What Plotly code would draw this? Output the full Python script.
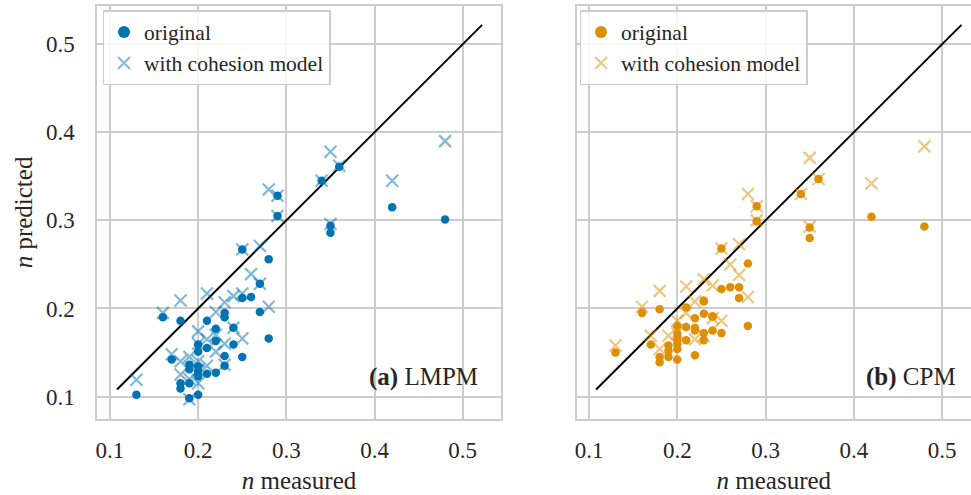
import plotly.graph_objects as go

# ---- data (n measured, n predicted) ----
a_orig_x = [0.13, 0.16, 0.17, 0.18, 0.18, 0.18, 0.19, 0.19, 0.19, 0.19,
            0.20, 0.20, 0.20, 0.20, 0.20, 0.20, 0.21, 0.21, 0.21, 0.22,
            0.22, 0.22, 0.23, 0.23, 0.23, 0.23, 0.24, 0.24, 0.25, 0.25,
            0.25, 0.26, 0.27, 0.27, 0.28, 0.28, 0.29, 0.29, 0.34, 0.35,
            0.35, 0.36, 0.42, 0.48]
a_orig_y = [0.102, 0.190, 0.142, 0.186, 0.115, 0.109, 0.136, 0.131, 0.115, 0.098,
            0.159, 0.151, 0.134, 0.129, 0.123, 0.102, 0.186, 0.155, 0.126, 0.177,
            0.163, 0.127, 0.195, 0.190, 0.146, 0.135, 0.178, 0.159, 0.267, 0.212,
            0.145, 0.213, 0.228, 0.196, 0.256, 0.166, 0.328, 0.305, 0.345, 0.294,
            0.286, 0.361, 0.315, 0.301]

a_coh_x = [0.13, 0.16, 0.17, 0.18, 0.18, 0.18, 0.19, 0.19, 0.19, 0.20,
           0.20, 0.20, 0.20, 0.20, 0.21, 0.21, 0.21, 0.22, 0.22, 0.22,
           0.23, 0.23, 0.23, 0.24, 0.24, 0.25, 0.25, 0.25, 0.26, 0.27,
           0.27, 0.28, 0.28, 0.29, 0.29, 0.34, 0.35, 0.35, 0.36, 0.42,
           0.48]
a_coh_y = [0.119, 0.195, 0.148, 0.209, 0.125, 0.140, 0.145, 0.120, 0.097, 0.174,
           0.140, 0.160, 0.130, 0.115, 0.217, 0.165, 0.135, 0.196, 0.151, 0.170,
           0.207, 0.136, 0.160, 0.214, 0.178, 0.267, 0.217, 0.166, 0.239, 0.271,
           0.228, 0.335, 0.202, 0.328, 0.305, 0.345, 0.378, 0.296, 0.362, 0.345,
           0.390]

b_orig_x = [0.13, 0.16, 0.17, 0.18, 0.18, 0.18, 0.19, 0.19, 0.19, 0.20,
            0.20, 0.20, 0.20, 0.20, 0.20, 0.21, 0.21, 0.21, 0.22, 0.22,
            0.22, 0.22, 0.23, 0.23, 0.23, 0.23, 0.23, 0.24, 0.24, 0.24,
            0.25, 0.25, 0.25, 0.26, 0.27, 0.27, 0.28, 0.28, 0.29, 0.29,
            0.34, 0.35, 0.35, 0.36, 0.42, 0.48]
b_orig_y = [0.150, 0.195, 0.159, 0.199, 0.145, 0.139, 0.158, 0.152, 0.145, 0.180,
            0.171, 0.165, 0.160, 0.154, 0.142, 0.201, 0.179, 0.164, 0.189, 0.178,
            0.175, 0.147, 0.208, 0.194, 0.172, 0.164, 0.209, 0.191, 0.175, 0.191,
            0.268, 0.222, 0.172, 0.224, 0.224, 0.212, 0.251, 0.180, 0.316, 0.299,
            0.330, 0.292, 0.280, 0.347, 0.304, 0.293]

b_coh_x = [0.13, 0.16, 0.17, 0.18, 0.18, 0.19, 0.20, 0.20, 0.21, 0.21,
           0.22, 0.22, 0.23, 0.23, 0.24, 0.24, 0.25, 0.25, 0.26, 0.27,
           0.27, 0.28, 0.28, 0.29, 0.29, 0.34, 0.35, 0.35, 0.36, 0.42,
           0.48]
b_coh_y = [0.158, 0.202, 0.169, 0.220, 0.154, 0.169, 0.186, 0.172, 0.225, 0.195,
           0.208, 0.165, 0.233, 0.169, 0.226, 0.189, 0.268, 0.186, 0.250, 0.273,
           0.238, 0.330, 0.213, 0.316, 0.300, 0.330, 0.371, 0.293, 0.347, 0.342,
           0.384]

diag = [0.108, 0.522]
tick_vals = [0.1, 0.2, 0.3, 0.4, 0.5]
tick_text = ["0.1", "0.2", "0.3", "0.4", "0.5"]

BLUE = "#0173b2"
BLUE_A = "rgba(1,115,178,0.5)"
ORANGE = "#de8f05"
ORANGE_A = "rgba(222,143,5,0.5)"
FONT = "Liberation Serif"
TXT = "#262626"

fig = go.Figure()

def add_panel(xo, yo, xc, yc, col, cola, xa, ya, leg):
    fig.add_trace(go.Scatter(x=diag, y=diag, mode="lines", line=dict(color="black", width=2),
                             showlegend=False, xaxis=xa, yaxis=ya, hoverinfo="skip"))
    fig.add_trace(go.Scatter(x=xc, y=yc, mode="markers", name="with cohesion model",
                             marker=dict(symbol="x-thin", size=12, color=cola,
                                         line=dict(width=2.2, color=cola)),
                             xaxis=xa, yaxis=ya, legend=leg, legendrank=2))
    fig.add_trace(go.Scatter(x=xo, y=yo, mode="markers", name="original",
                             marker=dict(symbol="circle", size=8.5, color=col),
                             xaxis=xa, yaxis=ya, legend=leg, legendrank=1))

add_panel(a_orig_x, a_orig_y, a_coh_x, a_coh_y, BLUE, BLUE_A, "x", "y", "legend")
add_panel(b_orig_x, b_orig_y, b_coh_x, b_coh_y, ORANGE, ORANGE_A, "x2", "y2", "legend2")

W, H = 971, 495
L, R, T, B = 97, 0, 6, 76
pw = W - L - R
ph = H - T - B
d1 = [0, (501 - L) / pw]
d2 = [(576.7 - L) / pw, 1]

grid = dict(showgrid=True, gridcolor="#cccccc", gridwidth=1.5,
            showline=True, linecolor="#cccccc", linewidth=1.5,
            zeroline=False, ticks="", automargin=False,
            tickvals=tick_vals, ticktext=tick_text,
            tickfont=dict(size=23, color=TXT, family=FONT))

xtitle = dict(text="<i>n</i> measured", font=dict(size=25, color=TXT, family=FONT), standoff=9)

fig.update_layout(
    width=W, height=H,
    margin=dict(l=L, r=R, t=T, b=B),
    plot_bgcolor="white", paper_bgcolor="white",
    font=dict(family=FONT, size=21, color=TXT),
    xaxis=dict(domain=d1, anchor="y", range=[0.0853, 0.5434], mirror=True,
               ticklabelstandoff=10, title=xtitle, **grid),
    xaxis2=dict(domain=d2, anchor="y2", range=[0.086, 0.5328], mirror=True,
                ticklabelstandoff=10, title=xtitle, **grid),
    yaxis=dict(domain=[0, 1], anchor="x", range=[0.0745, 0.5434], mirror=True,
               ticklabelstandoff=16,
               title=dict(text="<i>n</i> predicted", font=dict(size=25, color=TXT, family=FONT),
                          standoff=6), **grid),
    yaxis2=dict(domain=[0, 1], anchor="x2", range=[0.0745, 0.5434], mirror=False,
                showticklabels=False, **grid),
    legend=dict(x=(102.5 - L) / pw, y=1 - 4 / ph, xanchor="left", yanchor="top",
                bgcolor="rgba(255,255,255,0.85)", bordercolor="#cccccc", borderwidth=1.5,
                font=dict(size=21.5, color=TXT, family=FONT), tracegroupgap=0,
                itemsizing="constant"),
    legend2=dict(x=(579.5 - L) / pw, y=1 - 4 / ph, xanchor="left", yanchor="top",
                 bgcolor="rgba(255,255,255,0.85)", bordercolor="#cccccc", borderwidth=1.5,
                 font=dict(size=21.5, color=TXT, family=FONT), tracegroupgap=0,
                 itemsizing="constant"),
    annotations=[
        dict(text="<b>(a)</b> LMPM", xref="x domain", yref="y domain",
             x=(480 - 97) / 404, y=(419 - 377) / ph,
             xanchor="right", yanchor="middle", showarrow=False,
             font=dict(size=25, color=TXT, family=FONT)),
        dict(text="<b>(b)</b> CPM", xref="x2 domain", yref="y2 domain",
             x=(958 - 576.7) / (W - 576.7), y=(419 - 377) / ph,
             xanchor="right", yanchor="middle", showarrow=False,
             font=dict(size=25, color=TXT, family=FONT)),
    ],
)

fig.write_html("out.html", config={"displayModeBar": False},
               post_script="document.body.style.margin='0';")
